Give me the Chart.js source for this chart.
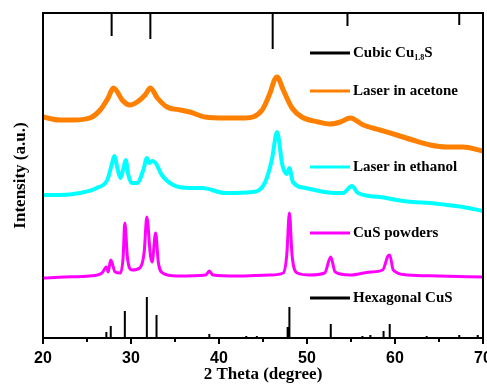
<!DOCTYPE html>
<html>
<head>
<meta charset="utf-8">
<script src="https://cdn.jsdelivr.net/npm/chart.js@4"></script>
<style>
  html, body { margin: 0; padding: 0; background: #fff; }
  canvas { display: block; }
</style>
</head>
<body>
<canvas id="xrd" width="487" height="387"></canvas>
<script>
// x ticks
const xTicks = [20, 30, 40, 50, 60, 70];
const xMinorTicks = [25, 35, 45, 55, 65];

// Laser in acetone (2 theta, intensity a.u. offset)
const acetoneTheta = [20, 21.9, 23.4, 25.3, 26.5, 27.4, 28.0, 28.3, 29.0, 29.9, 30.7, 31.6, 32.2, 33.0, 34.1, 35.6, 36.7, 38.4, 40.7, 43.0, 44.9, 45.8, 46.3, 46.6, 47.3, 48.3, 49.4, 51.3, 52.6, 53.8, 54.9, 56.4, 58.3, 60.2, 62.0, 64.0, 65.9, 67.7, 70];
const acetoneI = [221, 218, 218, 220, 228, 240, 250, 248, 238, 233, 236, 243, 250, 240, 231, 228, 226, 221, 220, 220, 228, 245, 258, 261, 248, 230, 221, 216, 214, 216, 220, 213, 208, 203, 198, 193, 191, 191, 187];

// Laser in ethanol
const ethanolTheta = [20, 21.9, 24.2, 26.1, 27.3, 27.8, 28.1, 28.5, 28.8, 29.1, 29.4, 29.7, 30.1, 30.7, 31.4, 31.8, 32.1, 32.4, 32.8, 33.5, 34.8, 36.7, 38.1, 40.7, 43.8, 45.2, 46.0, 46.6, 47.2, 47.7, 48.0, 48.4, 49.8, 52.0, 53.2, 54.1, 55.1, 55.8, 58.3, 60.2, 62.0, 64.0, 65.9, 67.7, 70];
const ethanolI = [143, 143, 145, 150, 158, 173, 182, 168, 160, 168, 178, 163, 155, 155, 168, 180, 175, 177, 175, 163, 153, 150, 150, 145, 146, 155, 178, 206, 173, 164, 170, 156, 150, 146, 145, 145, 152, 145, 141, 138, 136, 135, 133, 131, 127];

// CuS powders
const powderTheta = [20, 22.5, 25.3, 26.7, 27.2, 27.4, 27.7, 28.2, 28.8, 29.1, 29.3, 29.6, 30.1, 31.0, 31.5, 31.8, 32.2, 32.4, 32.8, 33.1, 33.6, 35.2, 38.5, 38.9, 39.3, 42, 45.8, 47.3, 47.7, 48.0, 48.3, 48.9, 50.3, 52.0, 52.7, 53.2, 54.9, 57.2, 58.6, 59.2, 59.4, 59.8, 61.4, 65, 70];
const powderI = [60, 61, 62, 65, 71, 66, 78, 66, 65, 80, 115, 80, 68, 70, 86, 121, 83, 76, 105, 76, 65, 62, 63, 67, 63, 62, 63, 65, 83, 125, 83, 65, 63, 65, 81, 66, 63, 66, 68, 82, 83, 68, 63, 62, 61];

// reference sticks: Hexagonal CuS (from bottom) and Cubic Cu1.8S (from top)
const hexPos = [27.2, 27.7, 29.3, 31.8, 32.9, 38.9, 43.1, 44.3, 47.8, 48.0, 52.7, 56.3, 57.2, 58.7, 59.4, 63.6, 67.3, 69.4];
const hexI = [6, 12, 27, 41, 23, 4, 2, 2, 11, 31, 14, 2, 3, 7, 14, 2, 3, 3];
const cubicPos = [27.8, 32.2, 46.1, 54.6, 67.3];
const cubicI = [23, 26, 36, 13, 12];

const yMax = 325;

const legendItems = [
    { label: 'Cubic Cu', sub: '1.8', tail: 'S', color: '#000000', y: 53 },
    { label: 'Laser in acetone', color: '#FF8000', y: 91 },
    { label: 'Laser in ethanol', color: '#00FFFF', y: 167 },
    { label: 'CuS powders', color: '#FF00FF', y: 233 },
    { label: 'Hexagonal CuS', color: '#000000', y: 298 }
];

function toPoints(xs, ys) {
    return xs.map((x, i) => ({ x: x, y: ys[i] }));
}

function stickPoints(pos, heights, base, dir) {
    const pts = [];
    pos.forEach((p, i) => {
        pts.push({ x: p, y: base });
        pts.push({ x: p, y: base + dir * heights[i] });
        pts.push({ x: p, y: null });
    });
    return pts;
}

const framePlugin = {
    id: 'frame',
    afterDraw(chart) {
        const ctx = chart.ctx;
        const a = chart.chartArea;
        const xs = chart.scales.x;
        ctx.save();
        ctx.strokeStyle = '#000';
        ctx.lineWidth = 2;
        ctx.strokeRect(a.left, a.top, a.right - a.left, a.bottom - a.top);
        xTicks.forEach(t => {
            const px = xs.getPixelForValue(t);
            ctx.beginPath();
            ctx.moveTo(px, a.bottom);
            ctx.lineTo(px, a.bottom + 6);
            ctx.stroke();
        });
        xMinorTicks.forEach(t => {
            const px = xs.getPixelForValue(t);
            ctx.beginPath();
            ctx.moveTo(px, a.bottom);
            ctx.lineTo(px, a.bottom + 4);
            ctx.stroke();
        });
        ctx.restore();
    }
};

const legendPlugin = {
    id: 'legendText',
    afterDraw(chart) {
        const ctx = chart.ctx;
        ctx.save();
        ctx.textBaseline = 'middle';
        ctx.fillStyle = '#000';
        legendItems.forEach(item => {
            ctx.strokeStyle = item.color;
            ctx.lineWidth = 3;
            ctx.beginPath();
            ctx.moveTo(310, item.y);
            ctx.lineTo(350, item.y);
            ctx.stroke();
            ctx.font = 'bold 15px "Liberation Serif"';
            ctx.fillText(item.label, 353, item.y);
            if (item.sub) {
                let x = 353 + ctx.measureText(item.label).width;
                ctx.font = 'bold 8px "Liberation Serif"';
                ctx.fillText(item.sub, x, item.y + 5);
                x += ctx.measureText(item.sub).width;
                ctx.font = 'bold 15px "Liberation Serif"';
                ctx.fillText(item.tail, x, item.y);
            }
        });
        ctx.restore();
    }
};

const ctx = document.getElementById('xrd');
new Chart(ctx, {
    type: 'line',
    data: {
        datasets: [
            {
                label: 'Cubic Cu1.8S',
                data: stickPoints(cubicPos, cubicI, yMax, -1),
                borderColor: '#000',
                borderWidth: 2,
                spanGaps: false
            },
            {
                label: 'Laser in acetone',
                data: toPoints(acetoneTheta, acetoneI),
                borderColor: '#FF8000',
                borderWidth: 5,
                cubicInterpolationMode: 'monotone'
            },
            {
                label: 'Laser in ethanol',
                data: toPoints(ethanolTheta, ethanolI),
                borderColor: '#00FFFF',
                borderWidth: 4,
                cubicInterpolationMode: 'monotone'
            },
            {
                label: 'CuS powders',
                data: toPoints(powderTheta, powderI),
                borderColor: '#FF00FF',
                borderWidth: 3,
                cubicInterpolationMode: 'monotone'
            },
            {
                label: 'Hexagonal CuS',
                data: stickPoints(hexPos, hexI, 0, 1),
                borderColor: '#000',
                borderWidth: 2,
                spanGaps: false
            }
        ]
    },
    options: {
        responsive: false,
        animation: false,
        elements: { point: { radius: 0 }, line: { borderCapStyle: 'butt' } },
        layout: { padding: { top: 13, right: 4, left: 0, bottom: 0 } },
        plugins: { legend: { display: false }, tooltip: { enabled: false } },
        scales: {
            x: {
                type: 'linear',
                min: 20,
                max: 70,
                afterFit: s => { s.height = 49; s.paddingLeft = 0; s.paddingRight = 0; },
                border: { display: false },
                grid: { display: false, drawTicks: false },
                ticks: {
                    stepSize: 10,
                    padding: 11,
                    color: '#000',
                    font: { family: 'Liberation Sans', size: 16, weight: 'bold' }
                },
                title: {
                    display: true,
                    text: '2 Theta (degree)',
                    color: '#000',
                    font: { family: 'Liberation Serif', size: 17, weight: 'bold' },
                    padding: { top: 0, bottom: 2 }
                }
            },
            y: {
                min: 0,
                max: yMax,
                afterFit: s => { s.width = 43; },
                border: { display: false },
                grid: { display: false, drawTicks: false },
                ticks: { display: false },
                title: {
                    display: true,
                    text: 'Intensity (a.u.)',
                    color: '#000',
                    font: { family: 'Liberation Serif', size: 17, weight: 'bold' },
                    padding: { top: 10, bottom: 0 }
                }
            }
        }
    },
    plugins: [framePlugin, legendPlugin]
});
</script>
</body>
</html>
